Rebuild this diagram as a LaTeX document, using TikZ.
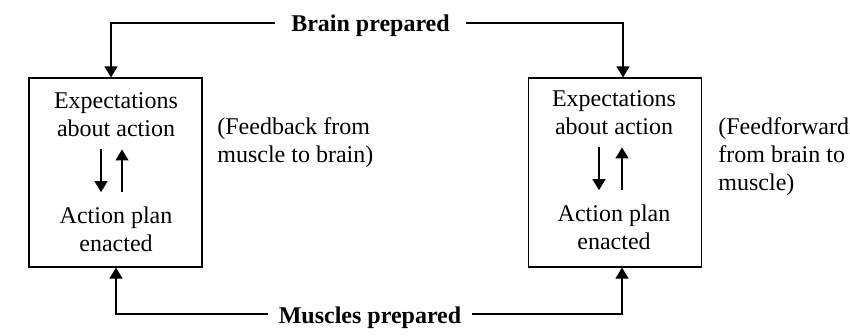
\documentclass[tikz,border=0pt]{standalone}
\usepackage{fontspec}
\setmainfont{Liberation Serif}
\usetikzlibrary{arrows.meta,positioning}

\tikzset{
  arr/.style={-{Triangle[width=6.5pt,length=5.5pt]}, line width=0.6pt},
  panel/.style={draw, line width=0.6pt, minimum width=86.5pt, minimum height=94.5pt, inner sep=0pt},
  txt/.style={font=\fontsize{12}{14}\selectfont, align=center, inner sep=0pt},
  note/.style={font=\fontsize{12}{14}\selectfont, align=left, inner sep=0pt, anchor=west},
  head/.style={font=\fontsize{12}{14}\selectfont\bfseries, inner ysep=0pt, text height=9pt, text depth=0pt}
}

\begin{document}
\begin{tikzpicture}[x=0.5pt,y=-0.5pt]
  \useasboundingbox (0,0) rectangle (850,336);

  % the two panels
  \node[panel] (boxL) at (115.5,172.5) {};
  \node[panel] (boxR) at (615,172.5) {};

  \node[txt] (expL) at (116,115) {Expectations\\about action};
  \node[txt] (actL) at (116,229) {Action plan\\enacted};
  \node[txt] (expR) at (614,113) {Expectations\\about action};
  \node[txt] (actR) at (614,227) {Action plan\\enacted};

  \draw[arr] ([xshift=-7.5pt,yshift=-6pt]expL.south) -- ([xshift=-7.5pt,yshift=7pt]actL.north);
  \draw[arr] ([xshift=3pt,yshift=7pt]actL.north) -- ([xshift=3pt,yshift=-6pt]expL.south);
  \draw[arr] ([xshift=-7.5pt,yshift=-6pt]expR.south) -- ([xshift=-7.5pt,yshift=7pt]actR.north);
  \draw[arr] ([xshift=4pt,yshift=7pt]actR.north) -- ([xshift=4pt,yshift=-6pt]expR.south);

  % notes beside the panels
  \node[note] (fbL) at (217,143) {(Feedback from\\muscle to brain)};
  \node[note] (ffR) at (718,157) {(Feedforward\\from brain to\\muscle)};

  % top and bottom links
  \node[head, inner xsep=8pt] (brain) at (370.5,23) {Brain prepared};
  \node[head, inner xsep=5pt] (muscle) at (370,314) {Muscles prepared};

  \draw[arr] (brain.west) -| ([xshift=-2.25pt]boxL.north);
  \draw[arr] (brain.east) -| ([xshift=4pt]boxR.north);
  \draw[arr] (muscle.west) -| ([xshift=0.25pt]boxL.south);
  \draw[arr] (muscle.east) -| ([xshift=3.5pt]boxR.south);
\end{tikzpicture}
\end{document}
